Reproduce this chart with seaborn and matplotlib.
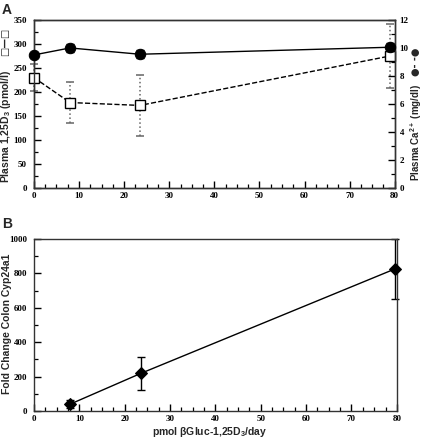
import numpy as np
import pandas as pd
import matplotlib
matplotlib.use("Agg")
import matplotlib.pyplot as plt
import seaborn as sns
from matplotlib.ticker import MultipleLocator

# Panel A data
dose_a = [0, 8, 23.5, 79]
d3_vals = [230, 178, 172, 275]          # Plasma 1,25D3 (pmol/l)
d3_err = [28, 43, 64, 67]
ca_dose = [0, 8, 23.5, 79]
ca_vals = [9.5, 10.0, 9.55, 10.05]      # Plasma Ca2+ (mg/dl)
ca_err = [0.15, 0.3, 0.3, 0.3]

# Panel B data
dose_b = [8, 23.5, 79.5]
cyp_vals = [40, 218, 825]
cyp_err = [25, 97, 172]

sns.set_style("ticks")
plt.rcParams['font.family'] = ['Liberation Sans', 'DejaVu Sans']
plt.rcParams['mathtext.default'] = 'regular'
plt.rcParams['xtick.direction'] = 'in'
plt.rcParams['ytick.direction'] = 'in'
plt.rcParams['xtick.color'] = 'black'
plt.rcParams['ytick.color'] = 'black'

fig = plt.figure(figsize=(4.24, 4.4), dpi=100)
ax1 = fig.add_axes([0.080, 0.5727, 0.851, 0.382])
ax2 = fig.add_axes([0.080, 0.0659, 0.856, 0.391])

tickfont = dict(family='Liberation Serif', weight='bold', size=6.5)
labfont = dict(fontsize=7.5, fontweight='bold')


def style_axis(ax, right=False):
    ax.tick_params(which='major', direction='in', length=5, width=1.0, color='black')
    ax.tick_params(which='minor', direction='in', length=3, width=0.9, color='black')
    ax.tick_params(axis='x', which='major', pad=3)
    ax.tick_params(axis='y', which='major', pad=3.5 if right else 5)
    ax.tick_params(top=False, right=right, left=not right, which='both')
    for lab in ax.get_xticklabels() + ax.get_yticklabels():
        lab.set_fontproperties(tickfont)
    for s in ax.spines.values():
        s.set_visible(True)
        s.set_linewidth(1.0)
        s.set_color('#333333')


# ---- Panel A ----
df_d3 = pd.DataFrame({'dose': dose_a, 'val': d3_vals})
eb = ax1.errorbar(dose_a, d3_vals, yerr=d3_err, fmt='none', ecolor='#666666',
                  elinewidth=1.1, capsize=3, capthick=1.1, zorder=2, clip_on=False)
for coll in eb.lines[2]:
    coll.set_linestyle(':')
for cap in eb.lines[1]:
    cap.set_clip_on(False)
sns.lineplot(data=df_d3, x='dose', y='val', ax=ax1, color='black', linestyle='--',
             linewidth=1.0, marker='s', markersize=7.5, markerfacecolor='white',
             markeredgecolor='black', markeredgewidth=1.0, zorder=3, clip_on=False)
ax1.set_xlim(0, 80)
ax1.set_ylim(0, 350)
ax1.xaxis.set_major_locator(MultipleLocator(10))
ax1.xaxis.set_minor_locator(MultipleLocator(2.5))
ax1.yaxis.set_major_locator(MultipleLocator(50))
ax1.yaxis.set_minor_locator(MultipleLocator(25))
ax1.set_xlabel('')
ax1.set_ylabel('Plasma 1,25D$_3$ (pmol/l)', **labfont)
ax1.yaxis.set_label_coords(-0.058, 0.369)
style_axis(ax1)

ax1r = ax1.twinx()
df_ca = pd.DataFrame({'dose': ca_dose, 'val': ca_vals})
ax1r.errorbar(ca_dose, ca_vals, yerr=ca_err, fmt='none', ecolor='black',
              elinewidth=1.0, capsize=3, capthick=1.0, zorder=2, clip_on=False)
sns.lineplot(data=df_ca, x='dose', y='val', ax=ax1r, color='black', linestyle='-',
             linewidth=1.0, marker='o', markersize=7.5, markerfacecolor='black',
             markeredgecolor='black', zorder=3, clip_on=False)
ax1r.set_xlim(0, 80)
ax1r.set_ylim(0, 12)
ax1r.yaxis.set_major_locator(MultipleLocator(2))
ax1r.yaxis.set_minor_locator(MultipleLocator(1))
ax1r.set_xlabel('')
ax1r.set_ylabel('Plasma Ca$^{2+}$ (mg/dl)', fontsize=7.0, fontweight='bold')
ax1r.yaxis.set_label_position('right')
ax1r.yaxis.set_label_coords(1.038, 0.333)
style_axis(ax1r, right=True)
ax1r.tick_params(axis='x', which='both', bottom=False, labelbottom=False)

# legend symbols beside the axis labels
fig.text(0.012, 0.905, '□—□', rotation=90, fontsize=7, fontweight='bold',
         family='DejaVu Sans', ha='center', va='center')
fig.text(0.982, 0.859, '●- -●', rotation=90, fontsize=7, fontweight='bold',
         family='DejaVu Sans', ha='center', va='center')

# ---- Panel B ----
df_cyp = pd.DataFrame({'dose': dose_b, 'val': cyp_vals})
ax2.errorbar(dose_b, cyp_vals, yerr=cyp_err, fmt='none', ecolor='black',
             elinewidth=1.0, capsize=3, capthick=1.0, zorder=2, clip_on=False)
sns.lineplot(data=df_cyp, x='dose', y='val', ax=ax2, color='black', linewidth=1.0,
             marker='D', markersize=6, markerfacecolor='black', markeredgecolor='black',
             zorder=3, clip_on=False)
ax2.set_xlim(0, 80)
ax2.set_ylim(0, 1000)
ax2.xaxis.set_major_locator(MultipleLocator(10))
ax2.xaxis.set_minor_locator(MultipleLocator(2.5))
ax2.yaxis.set_major_locator(MultipleLocator(200))
ax2.yaxis.set_minor_locator(MultipleLocator(100))
ax2.set_xlabel(r'pmol $\beta$Gluc-1,25D$_3$/day', **labfont)
ax2.xaxis.set_label_coords(0.485, -0.081)
ax2.set_ylabel('Fold Change Colon Cyp24a1', **labfont)
ax2.yaxis.set_label_coords(-0.061, 0.506)
style_axis(ax2)

fig.text(0.005, 0.994, 'A', fontsize=10, fontweight='bold', va='top')
fig.text(0.005, 0.506, 'B', fontsize=10, fontweight='bold', va='top')

fig.savefig('out.png', dpi=100)
